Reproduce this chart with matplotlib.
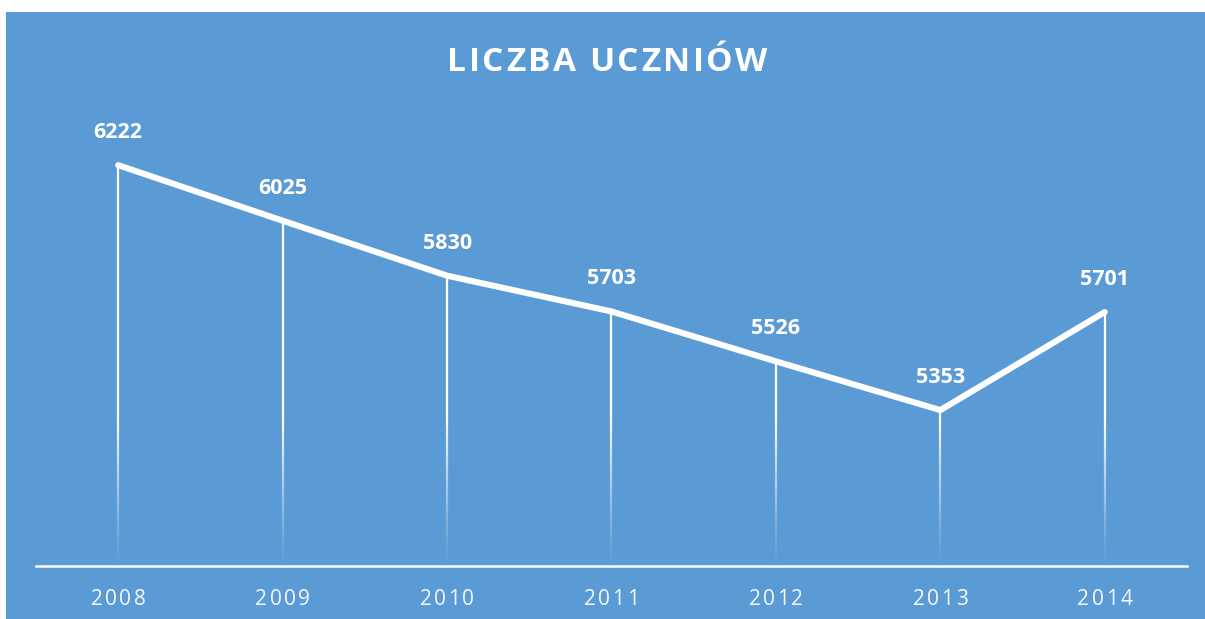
import matplotlib
matplotlib.use("Agg")
import matplotlib.pyplot as plt
import numpy as np
from matplotlib.collections import LineCollection
from matplotlib.font_manager import FontProperties
from matplotlib.patches import Rectangle
from matplotlib.transforms import blended_transform_factory, offset_copy

YEARS = ["2008", "2009", "2010", "2011", "2012", "2013", "2014"]
STUDENTS = [6222, 6025, 5830, 5703, 5526, 5353, 5701]
TITLE = "LICZBA UCZNIÓW"

BG = "#5B9BD5"
W, H, DPI = 1205, 619, 100
Y_MIN, Y_MAX = 4800, 6400


def spaced_text(fig, x, y, s, transform, tracking_px, prop, **kw):
    """Draw s centred on (x, y) with extra letter spacing (in pixels)."""
    renderer = fig.canvas.get_renderer()
    widths = [renderer.get_text_width_height_descent(ch, prop, ismath=False)[0] for ch in s]
    total = sum(widths) + tracking_px * (len(s) - 1)
    dx = -total / 2
    for ch, w in zip(s, widths):
        tr = offset_copy(transform, fig=fig, x=dx, y=0, units="dots")
        fig.text(x, y, ch, transform=tr, ha="left", va="baseline", fontproperties=prop, **kw)
        dx += w + tracking_px


fig = plt.figure(figsize=(W / DPI, H / DPI), dpi=DPI, facecolor="white")
fig.patches.append(Rectangle((6 / W, 0), 1 - 6 / W, 1 - 12 / H, transform=fig.transFigure,
                             facecolor=BG, edgecolor="none", zorder=-10))

ax = fig.add_axes([36 / W, 53 / H, (1187 - 36) / W, (566 - 115) / H])
ax.set_facecolor("none")
x = np.arange(len(YEARS))
ax.set_xlim(-0.5, len(YEARS) - 0.5)
ax.set_ylim(Y_MIN, Y_MAX)

# fading drop lines from each point to the baseline
for xi, v in zip(x, STUDENTS):
    ys = np.linspace(v, Y_MIN, 80)
    segs = [[(xi, ys[k]), (xi, ys[k + 1])] for k in range(len(ys) - 1)]
    mid = (ys[:-1] + ys[1:]) / 2
    alpha = np.clip((mid - Y_MIN) / (5330 - Y_MIN), 0.05, 1.0) ** 1.2
    colors = [(1, 1, 1, a) for a in alpha]
    ax.add_collection(LineCollection(segs, colors=colors, linewidths=1.6, zorder=2))

ax.plot(x, STUDENTS, color="white", lw=4.4, solid_capstyle="round",
        solid_joinstyle="miter", zorder=3)

label_font = FontProperties(family="Open Sans", weight="bold", size=15.5)
for xi, v in zip(x, STUDENTS):
    ax.annotate(f"{v}", (xi, v), xytext=(0, 23.5), textcoords="offset points",
                ha="center", va="center", color="white", fontproperties=label_font)

for side in ["top", "right", "left"]:
    ax.spines[side].set_visible(False)
ax.spines["bottom"].set_color("white")
ax.spines["bottom"].set_linewidth(1.8)
ax.set_xticks([])
ax.set_yticks([])

tick_font = FontProperties(family="Open Sans", size=15)
tick_tr = blended_transform_factory(ax.transData, fig.transFigure)
for xi, year in zip(x, YEARS):
    spaced_text(fig, xi, (H - 605) / H, year, tick_tr, 2.3, tick_font, color="#F4F8FC")

title_font = FontProperties(family="Open Sans", weight="bold", size=24)
spaced_text(fig, 0.5 + 5 / W, (H - 71) / H, TITLE, fig.transFigure, 2.5, title_font, color="white")

fig.savefig("out.png", dpi=DPI, facecolor="white")
